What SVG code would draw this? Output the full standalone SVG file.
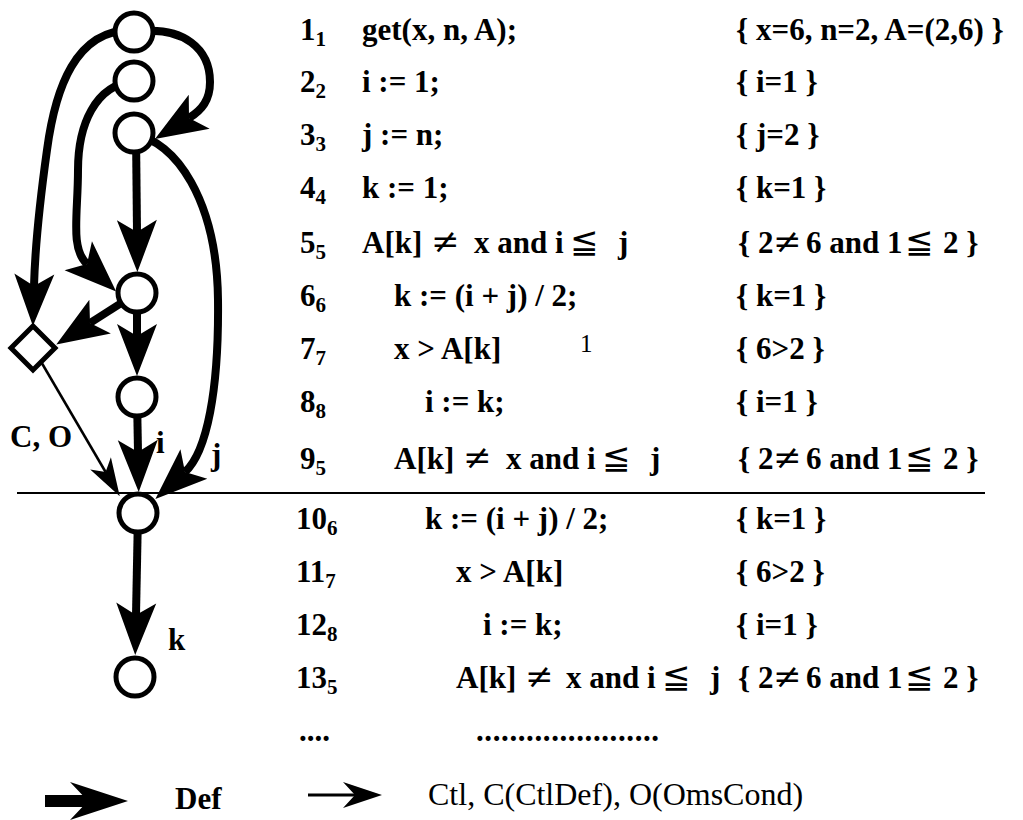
<svg xmlns="http://www.w3.org/2000/svg" width="1023" height="820" viewBox="0 0 1023 820">
<style>
.t{font-family:"Liberation Serif","Times New Roman","DejaVu Serif",serif;font-weight:bold;font-size:31px;fill:#000}
.r{font-weight:normal}
.sub{font-size:21px}
.sym{font-family:"DejaVu Serif",serif;font-weight:normal;font-size:34px}
.node{fill:#fff;stroke:#000;stroke-width:5}
.thick{fill:none;stroke:#000;stroke-width:8;marker-end:url(#hd)}
.thin{fill:none;stroke:#000;stroke-width:2.5;marker-end:url(#hdt)}
</style>
<defs>
<marker id="hd" markerUnits="userSpaceOnUse" markerWidth="70" markerHeight="50" viewBox="-15 -25 70 50" refX="0" refY="0" orient="auto" overflow="visible">
<path d="M40,0 L-12,-20 L0,0 L-12,20 Z" fill="#000"/>
</marker>
<marker id="hdt" markerUnits="userSpaceOnUse" markerWidth="50" markerHeight="40" viewBox="-15 -20 50 40" refX="0" refY="0" orient="auto" overflow="visible">
<path d="M28,0 L-10,-12 L0,0 L-10,12 Z" fill="#000"/>
</marker>
</defs>
<rect width="1023" height="820" fill="#fff"/>

<g id="connectors">
<path class="thick" d="M134,32 C185,25 210,50 210,82 C210,100 202,110 189,118"/>
<path class="thick" d="M134,30 C75,28 55,90 47,150 C40,200 35,250 34,286"/>
<path class="thick" d="M134,81 C95,85 78,125 78,170 C78,215 70,248 87,264"/>
<path class="thick" d="M134,135 C175,140 217,200 218,300 C219,390 207,452 185,472"/>
<path class="thick" d="M136,133 L137,232"/>
<path class="thick" d="M137,293 L90,323"/>
<path class="thick" d="M137,293 L137,336"/>
<path class="thick" d="M137,397 L138,452"/>
<path class="thick" d="M138,513 L136,615"/>
<path class="thin" d="M33,348 L105.6,472"/>
</g>

<g id="n1"><circle class="node" cx="134" cy="32" r="19"/></g>
<g id="n2"><circle class="node" cx="134" cy="81" r="19"/></g>
<g id="n3"><circle class="node" cx="134" cy="133" r="19"/></g>
<g id="n5"><circle class="node" cx="137" cy="293" r="19"/></g>
<g id="d"><path class="node" d="M33,326 L55,348 L33,370 L11,348 Z"/></g>
<g id="n8"><circle class="node" cx="137" cy="397" r="19"/></g>
<g id="n9"><circle class="node" cx="138" cy="513" r="19"/></g>
<g id="n13"><circle class="node" cx="135" cy="677" r="19"/></g>

<g id="edge-labels">
<text class="t" x="10" y="447">C, O</text>
<text class="t" x="156" y="453">i</text>
<text class="t" x="211" y="465">j</text>
<text class="t" x="168" y="650">k</text>
</g>

<line x1="17" y1="493" x2="985" y2="493" stroke="#000" stroke-width="2"/>

<g id="rows">
<text class="t" x="300" y="40">1<tspan class="sub" dy="6">1</tspan></text>
<text class="t" x="362" y="40">get(x, n, A);</text>
<text class="t" x="736" y="40">{ x=6, n=2, A=(2,6) }</text>

<text class="t" x="300" y="92">2<tspan class="sub" dy="6">2</tspan></text>
<text class="t" x="362" y="92">i := 1;</text>
<text class="t" x="736" y="92">{ i=1 }</text>

<text class="t" x="300" y="145">3<tspan class="sub" dy="6">3</tspan></text>
<text class="t" x="362" y="145">j := n;</text>
<text class="t" x="736" y="145">{ j=2 }</text>

<text class="t" x="300" y="198">4<tspan class="sub" dy="6">4</tspan></text>
<text class="t" x="362" y="198">k := 1;</text>
<text class="t" x="736" y="198">{ k=1 }</text>

<text class="t" x="300" y="253">5<tspan class="sub" dy="6">5</tspan></text>
<text class="t" y="253"><tspan x="362">A[k]</tspan><tspan class="sym" x="431">≠</tspan><tspan x="474">x and i</tspan><tspan class="sym" x="570">≦</tspan><tspan x="618">j</tspan></text>
<text class="t" y="253"><tspan x="738">{ 2</tspan><tspan class="sym" x="773">≠</tspan><tspan x="806">6 and 1</tspan><tspan class="sym" x="905">≦</tspan><tspan x="943">2 }</tspan></text>

<text class="t" x="300" y="306">6<tspan class="sub" dy="6">6</tspan></text>
<text class="t" x="394" y="306">k := (i + j) / 2;</text>
<text class="t" x="736" y="306">{ k=1 }</text>

<text class="t" x="300" y="359">7<tspan class="sub" dy="6">7</tspan></text>
<text class="t" x="394" y="359">x &gt; A[k]</text>
<text class="t r" x="580" y="352" style="font-size:25px">1</text>
<text class="t" x="736" y="359">{ 6&gt;2 }</text>

<text class="t" x="300" y="412">8<tspan class="sub" dy="6">8</tspan></text>
<text class="t" x="425" y="412">i := k;</text>
<text class="t" x="736" y="412">{ i=1 }</text>

<text class="t" x="300" y="469">9<tspan class="sub" dy="6">5</tspan></text>
<text class="t" y="469"><tspan x="394">A[k]</tspan><tspan class="sym" x="463">≠</tspan><tspan x="506">x and i</tspan><tspan class="sym" x="602">≦</tspan><tspan x="650">j</tspan></text>
<text class="t" y="469"><tspan x="738">{ 2</tspan><tspan class="sym" x="773">≠</tspan><tspan x="806">6 and 1</tspan><tspan class="sym" x="905">≦</tspan><tspan x="943">2 }</tspan></text>

<text class="t" x="296" y="529">10<tspan class="sub" dy="6">6</tspan></text>
<text class="t" x="425" y="529">k := (i + j) / 2;</text>
<text class="t" x="736" y="529">{ k=1 }</text>

<text class="t" x="296" y="582">11<tspan class="sub" dy="6">7</tspan></text>
<text class="t" x="456" y="582">x &gt; A[k]</text>
<text class="t" x="736" y="582">{ 6&gt;2 }</text>

<text class="t" x="296" y="635">12<tspan class="sub" dy="6">8</tspan></text>
<text class="t" x="483" y="635">i := k;</text>
<text class="t" x="736" y="635">{ i=1 }</text>

<text class="t" x="296" y="688">13<tspan class="sub" dy="6">5</tspan></text>
<text class="t" y="688"><tspan x="456">A[k]</tspan><tspan class="sym" x="525">≠</tspan><tspan x="566">x and i</tspan><tspan class="sym" x="662">≦</tspan><tspan x="710">j</tspan></text>
<text class="t" y="688"><tspan x="738">{ 2</tspan><tspan class="sym" x="773">≠</tspan><tspan x="806">6 and 1</tspan><tspan class="sym" x="905">≦</tspan><tspan x="943">2 }</tspan></text>

<text class="t" x="299" y="741">....</text>
<text class="t" x="476" y="741" style="letter-spacing:0.6px">......................</text>
</g>

<g id="legend">
<line x1="45" y1="801" x2="90" y2="801" stroke="#000" stroke-width="12"/>
<path d="M128,801 L70,782 L88,801 L70,820 Z" fill="#000"/>
<text class="t" x="175" y="809">Def</text>
<line x1="308" y1="795" x2="358" y2="795" stroke="#000" stroke-width="3"/>
<path d="M382,795 L343,782 L355,795 L343,808 Z" fill="#000"/>
<text class="t r" x="428" y="805" style="font-size:32px">Ctl, C(CtlDef), O(OmsCond)</text>
</g>
</svg>
